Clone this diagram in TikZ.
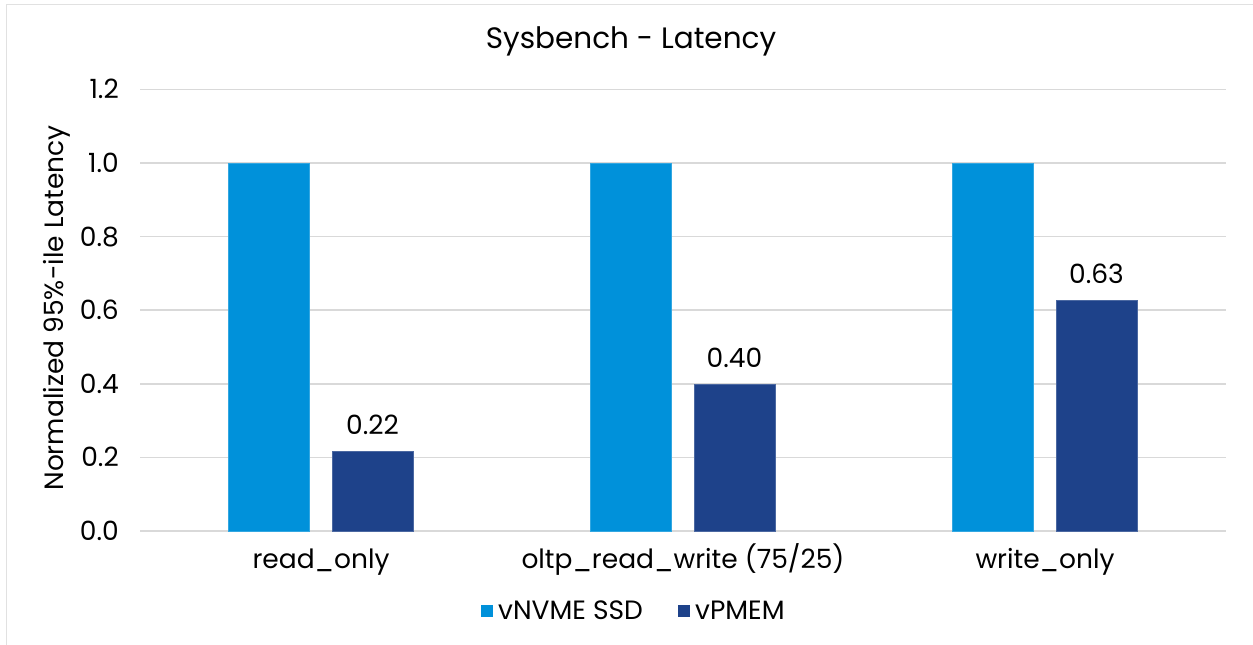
\documentclass[tikz,border=0pt]{standalone}
\usepackage{fontspec}
\setmainfont{Poppins}
\definecolor{nvme}{RGB}{0,145,218}
\definecolor{pmem}{RGB}{30,66,138}
\definecolor{gridc}{RGB}{217,217,217}
\definecolor{framec}{RGB}{225,225,225}
\begin{document}
\begin{tikzpicture}[x=1pt,y=-1pt,
  txt/.style={inner sep=0pt,font=\fontsize{26.5}{30}\selectfont},
  ticklbl/.style={txt,anchor=base east},
  catlbl/.style={txt,anchor=base},
  vallbl/.style={txt,anchor=base},
  gridline/.style={draw=gridc,line width=1.5pt},
  nvmebar/.style={fill=nvme,draw=nvme!80!white,line width=0.6pt},
  pmembar/.style={fill=pmem,draw=pmem!80!white,line width=0.6pt}]
\useasboundingbox (0,0) rectangle (1253,645);
\fill[white] (0,0) rectangle (1253,645);
% chart frame
\draw[framec,line width=1pt] (6,660) -- (6,4) -- (1270,4);
% title
\node[txt,anchor=base,font=\fontsize{29.5}{34}\selectfont] (title) at (631,48) {Sysbench - Latency};
% horizontal grid and tick labels
\foreach \v/\lab [count=\i] in {0/0.0,0.2/0.2,0.4/0.4,0.6/0.6,0.8/0.8,1.0/1.0,1.2/1.2}{
  \draw[gridline] (140,531-368*\v) -- (1226,531-368*\v);
  \node[ticklbl] (tick\i) at (119,531-368*\v+9.5) {\lab};
}
% axis title
\node[txt,rotate=90,anchor=base] (ytitle) at (63,308) {Normalized 95\%-ile Latency};
% bars
\foreach \c/\p/\lab [count=\i] in {321/0.217/0.22,683/0.399/0.40,1045/0.626/0.63}{
  \path[nvmebar] (\c-93,531) rectangle (\c-12,163);
  \path[pmembar] (\c+11,531) rectangle (\c+92,531-368*\p);
  \node[vallbl] (val\i) at (\c+51.5,531-368*\p-17) {\lab};
}
% category labels
\node[catlbl] (cat1) at (321,568) {read\_only};
\node[catlbl] (cat2) at (683,568) {oltp\_read\_write (75/25)};
\node[catlbl] (cat3) at (1045,568) {write\_only};
% legend
\fill[nvme] (481,605) rectangle (493,617);
\node[txt,anchor=base west] (leg1) at (498,619) {vNVME SSD};
\fill[pmem] (678,605) rectangle (690,617);
\node[txt,anchor=base west] (leg2) at (695,619) {vPMEM};
\end{tikzpicture}
\end{document}
